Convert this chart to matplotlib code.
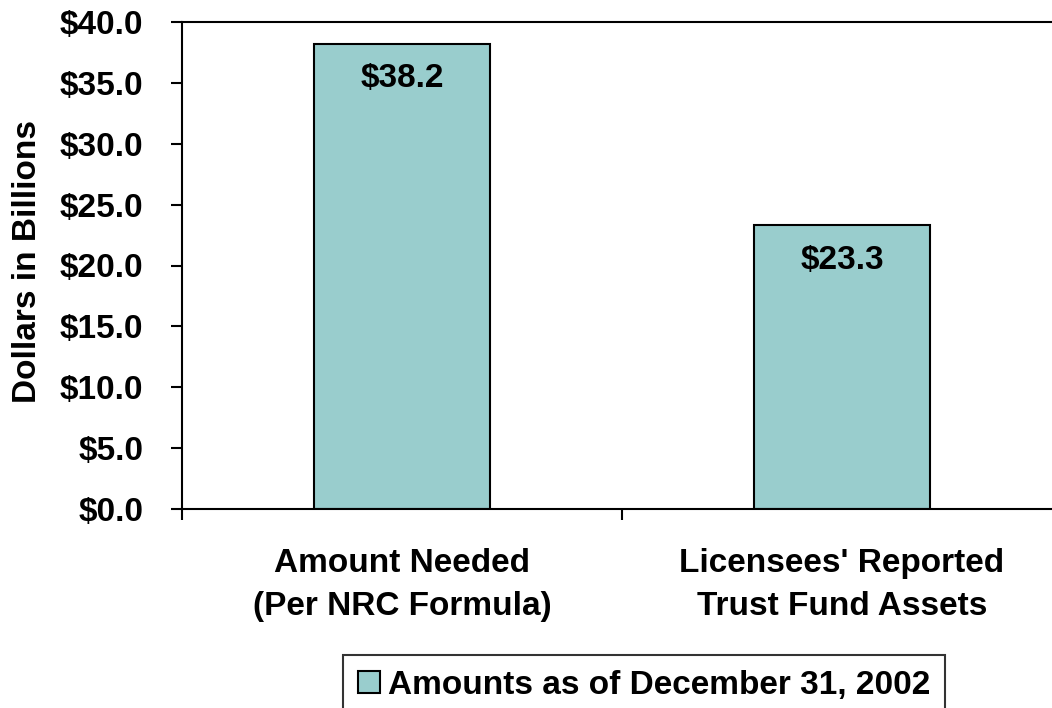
import numpy as np
import matplotlib.pyplot as plt
from matplotlib.patches import Patch

plt.rcParams['font.family'] = ['Liberation Sans', 'DejaVu Sans']
plt.rcParams['font.weight'] = 'bold'

categories = ['Amount Needed\n(Per NRC Formula)', "Licensees' Reported\nTrust Fund Assets"]
values = [38.2, 23.3]
legend_label = 'Amounts as of December 31, 2002'
yticks = np.arange(0, 45, 5)

bar_color = '#99CDCD'

fig = plt.figure(figsize=(10.52, 7.08), dpi=100)
ax = fig.add_axes([182 / 1052, 1 - 509 / 708, 880 / 1052, 487 / 708])

x = np.arange(len(values))
bars = ax.bar(x, values, width=0.4, color=bar_color, edgecolor='black', linewidth=1.5)

for xi, v in zip(x, values):
    ax.annotate(f'${v:.1f}', xy=(xi, v), xytext=(0, -25), textcoords='offset points',
                ha='center', va='center', fontsize=24, fontweight='bold')

ax.set_xlim(-0.5, 1.5)
ax.set_ylim(0, 40)
ax.set_yticks(yticks)
ax.set_yticklabels([f'${t:.1f}' for t in yticks], fontsize=24, fontweight='bold')
ax.set_xticks(x)
ax.set_xticklabels(categories, fontsize=24, fontweight='bold', linespacing=1.5)
ax.set_xticks([-0.5, 0.5, 1.5], minor=True)
ax.tick_params(axis='x', which='major', length=0, pad=28)
ax.tick_params(axis='x', which='minor', length=8, width=1.5, direction='out')
ax.tick_params(axis='y', length=8, width=1.5, direction='out', pad=20)

for s in ax.spines.values():
    s.set_linewidth(1.5)

ax.set_ylabel('Dollars in Billions', fontsize=24, fontweight='bold')
ax.yaxis.set_label_coords(-0.158, 0.508)

handle = Patch(facecolor=bar_color, edgecolor='black', linewidth=1.5)
leg = fig.legend([handle], [legend_label], loc='upper left',
                 bbox_to_anchor=(343 / 1052, 1 - 655 / 708),
                 prop={'size': 24, 'weight': 'bold'}, frameon=True, fancybox=False,
                 handlelength=0.65, handleheight=0.65, handletextpad=0.25,
                 borderpad=0.45, borderaxespad=0)
leg.get_frame().set_edgecolor('black')
leg.get_frame().set_linewidth(1.5)

fig.savefig('out.png', dpi=100)
